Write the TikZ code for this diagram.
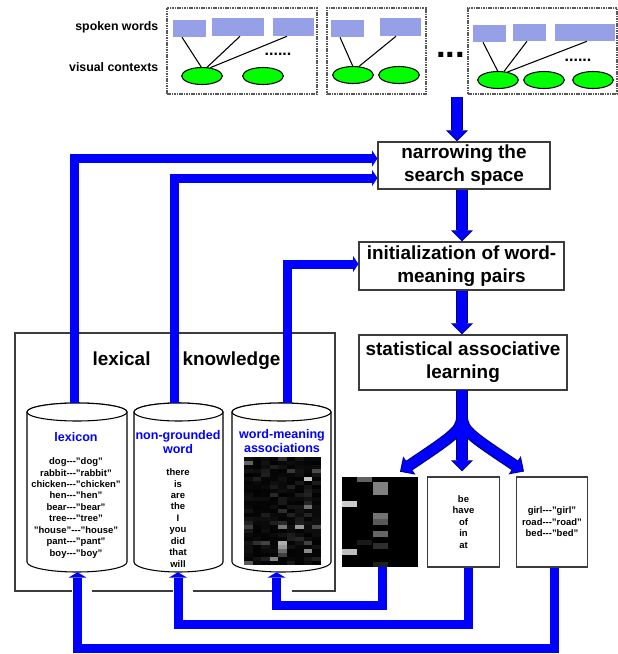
\documentclass[tikz,border=0pt]{standalone}
\usepackage{fontspec}
\setmainfont{Liberation Sans}
\usetikzlibrary{arrows.meta,calc,fit,shapes.geometric}
\definecolor{fblue}{RGB}{0,0,255}
\definecolor{navyc}{RGB}{0,0,110}
\definecolor{wordc}{RGB}{150,160,230}
\definecolor{greenc}{RGB}{0,255,0}
\definecolor{framec}{RGB}{60,60,60}
\newcommand\flowarrow[1]{\draw[flowO] #1; \draw[flowI] #1;}
\newcommand\dsh{-\kern0pt-\kern0pt-}
\begin{document}
\begin{tikzpicture}[x=0.75pt,y=-0.75pt,
  panel/.style={draw=gray!70!black, dash pattern=on 1.2pt off 0.6pt, line width=0.8pt, inner sep=0pt},
  word/.style={fill=wordc, inner sep=0pt},
  ctx/.style={ellipse, draw=black, line width=0.8pt, fill=greenc, minimum width=30.5pt, minimum height=12.75pt, inner sep=0pt},
  link/.style={draw=black, line width=0.8pt},
  lab/.style={font=\fontsize{9.25}{11}\selectfont\bfseries, anchor=east},
  box/.style={draw=framec, line width=0.8pt, fill=white, inner sep=0pt, align=center, font=\fontsize{14.2}{17.3}\selectfont\bfseries},
  rbox/.style={draw=framec, line width=0.8pt, fill=white, inner sep=0pt, align=center, font=\fontsize{7.1}{8.7}\selectfont\bfseries, minimum width=53.5pt, minimum height=67.5pt},
  flowO/.style={draw=navyc, line width=8.6pt, -{Triangle[length=8.4pt,width=16.5pt,line width=0pt]}},
  flowI/.style={draw=fblue, line width=7pt, shorten >=1pt, -{Triangle[length=6.9pt,width=14.2pt,line width=0pt]}},
  fb/.style={draw=fblue, line width=6.75pt, -{Triangle[length=4pt,width=13.5pt,line width=0pt]}},
  fbl/.style={draw=fblue, line width=6.75pt, -{Triangle[length=4pt,width=12pt,line width=0pt]}},
  cyl/.style={draw=black, line width=0.8pt, fill=white},
  cyltext/.style={font=\fontsize{7.1}{8.6}\selectfont\bfseries, align=center},
  cyltitle/.style={font=\fontsize{9.4}{10.5}\selectfont\bfseries, text=fblue, align=center},
  dots/.style={font=\fontsize{12}{14}\selectfont\bfseries, inner sep=0pt}
]
\useasboundingbox (0,0) rectangle (618,654);
\fill[white] (0,0) rectangle (618,654);

% ---------- top panels ----------
\node[lab] (lspoken) at (163,27) {spoken words};
\node[lab] (lvisual) at (163,67) {visual contexts};

\node[panel, fit={(167,8) (317,94)}] (p1) {};
\node[word, fit={(173,20) (206,37)}] (w11) {};
\node[word, fit={(212,18) (264,36)}] (w12) {};
\node[word, fit={(273,18) (314,36)}] (w13) {};
\node[ctx] (e11) at (202,76) {};
\node[ctx] (e12) at (263,76) {};
\draw[link] ($(w11.south)+(-7.5,0)$) -- (e11.95);
\draw[link] ($(w12.south)+(2,0)$) -- (e11.60);
\draw[link] ($(w13.south)+(-6.5,0)$) -- (e11.45);
\node[dots] (d1) at (278,54) {......};

\node[panel, fit={(327,8) (426,94)}] (p2) {};
\node[word, fit={(331,20) (364,37)}] (w21) {};
\node[word, fit={(380,18) (421,36)}] (w22) {};
\node[ctx] (e21) at (353,75) {};
\node[ctx] (e22) at (399,75) {};
\draw[link] ($(w21.south)+(-7.5,0)$) -- (e21.92);
\draw[link] ($(w22.south)+(-4.5,0)$) -- (e21.55);

\node[font=\fontsize{26}{30}\selectfont\bfseries, inner sep=0pt] (bigdots) at (450.5,55) {...};

\node[panel, fit={(468,8) (617,94)}] (p3) {};
\node[word, fit={(473,25) (506,42)}] (w31) {};
\node[word, fit={(513,24) (546,41)}] (w32) {};
\node[word, fit={(555,24) (615,41)}] (w33) {};
\node[ctx] (e31) at (498,80) {};
\node[ctx] (e32) at (544,80) {};
\node[ctx] (e33) at (593,80) {};
\draw[link] ($(w31.south)+(-6.5,0)$) -- (e31.92);
\draw[link] ($(w32.south)+(-2.5,0)$) -- (e31.55);
\draw[link] ($(w33.south)+(2,0)$) -- (e31.40);
\node[dots] (d3) at (578,60) {......};

% ---------- main flow ----------
\node[box, minimum width=129pt, minimum height=35.25pt] (narrow) at (464,165.5) {narrowing the\\search space};
\node[box, minimum width=153.75pt, minimum height=36pt] (init) at (461.5,266) {initialization of word-\\meaning pairs};
\node[box, minimum width=156pt, minimum height=41.25pt] (stat) at (463,362.5) {statistical associative\\learning};

\coordinate (src) at (457,97);
\coordinate (spine) at (462,0);
\flowarrow{(src) -- (src |- narrow.north)}
\flowarrow{(narrow.south -| spine) -- (init.north -| spine)}
\flowarrow{(init.south -| spine) -- (stat.north -| spine)}

% ---------- result boxes ----------
\node[fill=black, inner sep=0pt, fit={(342,477) (418,567)}] (img2) {};
\fill[black!62] (357,477) rectangle (372,482);
\fill[black!50] (373,482) rectangle (388,495);
\fill[black!20] (342,501) rectangle (357,507);
\fill[black!55] (373,513) rectangle (388,519);
\fill[black!65] (373,519) rectangle (388,525);
\fill[black!60] (373,531) rectangle (388,537);
\fill[black!82] (373,543) rectangle (388,549);
\fill[black!25] (342,549) rectangle (357,555);
\fill[black!88] (373,562) rectangle (388,567);
\fill[black!90] (357,540) rectangle (372,545);

\node[rbox] (box2) at (463.5,522) {be\\have\\of\\in\\at};
\node[rbox] (box3) at (552,522) {girl\dsh"girl"\\road\dsh"road"\\bed\dsh"bed"};

% branching arrows
\coordinate (fork) at (462,410);
\coordinate (endL) at ($(img2.north)+(20,-5)$);
\coordinate (endM) at ($(box2.north -| spine)+(0,-5)$);
\coordinate (endR) at ($(box3.north)+(-28,-5)$);
\draw[flowO] (stat.south -| spine) -- (fork) .. controls +(0,20) .. (endL);
\draw[flowO] (stat.south -| spine) -- (fork) .. controls +(0,20) .. (endR);
\draw[flowO] (stat.south -| spine) -- (endM);
\draw[flowI] (stat.south -| spine) -- (fork) .. controls +(0,20) .. (endL);
\draw[flowI] (stat.south -| spine) -- (fork) .. controls +(0,20) .. (endR);
\draw[flowI] (stat.south -| spine) -- (endM);

% ---------- lexical knowledge ----------
\node[draw=framec, line width=0.8pt, inner sep=0pt, fit={(15,333) (335,591)}] (lex) {};
\node[font=\fontsize{14.2}{17}\selectfont\bfseries] (lexlab) at (186.5,361) {lexical\hspace{24pt}knowledge};
\draw[white, line width=2pt] (72,591) -- (92,591) (173,591) -- (193,591) (273,591) -- (292,591);

\node[inner sep=0pt, fit={(27,403) (127,572)}] (cyl1) {};
\node[inner sep=0pt, fit={(134,403) (223,572)}] (cyl2) {};
\node[inner sep=0pt, fit={(232,403) (331,572)}] (cyl3) {};

\draw[cyl] (27,412) -- (27,562) arc[start angle=180,end angle=360,x radius=37.5pt,y radius=7.5pt] -- (127,412) arc[start angle=0,end angle=180,x radius=37.5pt,y radius=6.75pt] -- cycle;
\draw[cyl] (77,412) ellipse[x radius=37.5pt,y radius=6.75pt];
\draw[cyl] (134,412) -- (134,562) arc[start angle=180,end angle=360,x radius=33.375pt,y radius=7.5pt] -- (223,412) arc[start angle=0,end angle=180,x radius=33.375pt,y radius=6.75pt] -- cycle;
\draw[cyl] (178.5,412) ellipse[x radius=33.375pt,y radius=6.75pt];
\draw[cyl] (232,412) -- (232,562) arc[start angle=180,end angle=360,x radius=37.125pt,y radius=7.5pt] -- (331,412) arc[start angle=0,end angle=180,x radius=37.125pt,y radius=6.75pt] -- cycle;
\draw[cyl] (281.5,412) ellipse[x radius=37.125pt,y radius=6.75pt];

\node[cyltitle] (t1) at (76,437) {lexicon};
\node[cyltext] (c1) at (76,508) {dog\dsh"dog"\\rabbit\dsh"rabbit"\\chicken\dsh"chicken"\\hen\dsh"hen"\\bear\dsh"bear"\\tree\dsh"tree"\\"house"\dsh"house"\\pant\dsh"pant"\\boy\dsh"boy"};
\node[cyltitle] (t2) at (178,442) {non-grounded\\word};
\node[cyltext] (c2) at (178,518) {there\\is\\are\\the\\I\\you\\did\\that\\will};
\node[cyltitle] (t3) at (282,441) {word-meaning\\associations};

\fill[black] (244,457) rectangle (321,565);
\pgfmathsetseed{11}
\foreach \i in {0,...,8} \foreach \j in {0,...,26} {
  \pgfmathsetmacro\r{rnd}
  \pgfmathtruncatemacro\g{100-6*\r-22*pow(\r,6)-62*pow(\r,24)}
  \fill[black!\g!white] ({244+\i*8.55},{457+\j*4}) rectangle ({244+(\i+1)*8.55},{457+(\j+1)*4});
}

% ---------- lexicon lines to main flow ----------
\draw[fbl] ($(cyl1.north)+(-2.5,0)$) |- ($(narrow.west)+(0,-7)$);
\draw[fbl] ($(cyl2.north)+(-4,0)$) |- ($(narrow.west)+(0,12.5)$);
\draw[fbl] ($(cyl3.north)+(5.5,0)$) |- ($(init.west)+(0,-2)$);

% ---------- feedback ----------
\draw[fb] ($(img2.south)+(2,0)$) -- ++(0,38) -| ($(cyl3.south)+(-5,0)$);
\draw[fb] ($(box2.south)+(4.5,0)$) -- ++(0,57) -| ($(cyl2.south)+(-0.5,0)$);
\draw[fb] ($(box3.south)+(2,0)$) -- ++(0,81) -| ($(cyl1.south)+(0.5,0)$);
\end{tikzpicture}
\end{document}
